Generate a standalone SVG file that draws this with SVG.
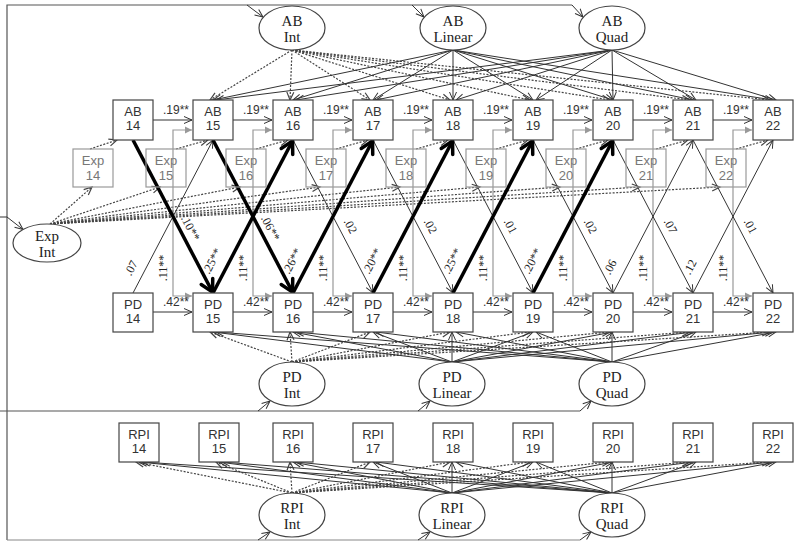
<svg xmlns="http://www.w3.org/2000/svg" width="800" height="547" viewBox="0 0 800 547">
<style>
.box{fill:#fff;stroke:#444;stroke-width:1.2}
.exp{fill:none;stroke:#999;stroke-width:1.2}
.ell{fill:#fff;stroke:#444;stroke-width:1.2}
.t{font-family:"Liberation Sans",Arial,sans-serif;font-size:13px;fill:#333;text-anchor:middle}
.te{font-family:"Liberation Sans",Arial,sans-serif;font-size:13px;fill:#777;text-anchor:middle}
.s{font-family:"Liberation Serif","Times New Roman",serif;font-size:15px;fill:#222;text-anchor:middle}
.l{font-family:"Liberation Sans",Arial,sans-serif;font-size:12px;fill:#333;text-anchor:middle}
.r{font-family:"Liberation Serif","Times New Roman",serif;font-size:12px;fill:#222;text-anchor:middle;dominant-baseline:central}
.c{fill:none;stroke:#333;stroke-width:1;marker-end:url(#m)}
.d{fill:none;stroke:#444;stroke-width:1.2;stroke-dasharray:2 1.5;marker-end:url(#md)}
.k{fill:none;stroke:#000;stroke-width:3.5;marker-end:url(#mk)}
.g{fill:none;stroke:#999;stroke-width:1.2;marker-end:url(#mg)}
.f{fill:none;stroke:#555;stroke-width:1.2}
.fg{fill:none;stroke:#888;stroke-width:1.2}
</style>
<defs>
<marker id="m" markerUnits="userSpaceOnUse" viewBox="-14 -8 16 16" markerWidth="16" markerHeight="16" refX="0" refY="0" orient="auto"><path d="M-8,-3.5 L0,0 L-8,3.5" fill="none" stroke="#333" stroke-width="1"/></marker>
<marker id="md" markerUnits="userSpaceOnUse" viewBox="-14 -8 16 16" markerWidth="16" markerHeight="16" refX="0" refY="0" orient="auto"><path d="M-8,-3.5 L0,0 L-8,3.5" fill="none" stroke="#444" stroke-width="1.2"/></marker>
<marker id="mk" markerUnits="userSpaceOnUse" viewBox="-16 -10 20 20" markerWidth="20" markerHeight="20" refX="1" refY="0" orient="auto"><path d="M-12,-6.5 L0,0 L-12,6.5" fill="none" stroke="#000" stroke-width="3.5" stroke-linejoin="round" stroke-linecap="round"/></marker>
<marker id="mg" markerUnits="userSpaceOnUse" viewBox="-14 -8 16 16" markerWidth="16" markerHeight="16" refX="0" refY="0" orient="auto"><path d="M-7,-3.5 L0,0 L-7,3.5 z" fill="#999"/></marker>
</defs>
<rect width="800" height="547" fill="#fff"/>

<g id="frame">
<path class="f" d="M7,540 V5 H572"/>
<path class="c" d="M572,5 L583,17"/>
<path class="c" d="M247,5 L263,17"/>
<path class="c" d="M412,5 L424,17"/>
<path class="c" d="M0,217 H7 L23,229.5"/>
<path class="f" d="M0,411 H580"/>
<path class="c" d="M580,411 L591,401"/>
<path class="c" d="M258,411 L270,401"/>
<path class="c" d="M418,411 L430,401"/>
<path class="fg" d="M7,540 H580"/>
<path class="c" d="M580,540 L591,532"/>
<path class="c" d="M258,540 L270,532"/>
<path class="c" d="M418,540 L430,532"/>
</g>

<g id="connectors">
<!-- Exp Int fan -->
<path class="d" d="M50,224 L92,187"/>
<path class="d" d="M50,224 L160,187"/>
<path class="d" d="M50,224 L240,187"/>
<path class="d" d="M50,224 L320,187"/>
<path class="d" d="M50,224 L400,187"/>
<path class="d" d="M50,224 L480,187"/>
<path class="d" d="M50,224 L560,187"/>
<path class="d" d="M50,224 L640,187"/>
<path class="d" d="M50,224 L720,187"/>
<!-- AB growth fans -->
<path class="d" d="M292,50 L210,100"/>
<path class="d" d="M292,50 L290,100"/>
<path class="d" d="M292,50 L370,100"/>
<path class="d" d="M292,50 L450,100"/>
<path class="d" d="M292,50 L530,100"/>
<path class="d" d="M292,50 L610,100"/>
<path class="d" d="M292,50 L690,100"/>
<path class="d" d="M292,50 L770,100"/>
<path class="c" d="M453,50 L213,100"/>
<path class="c" d="M453,50 L293,100"/>
<path class="c" d="M453,50 L373,100"/>
<path class="c" d="M453,50 L453,100"/>
<path class="c" d="M453,50 L533,100"/>
<path class="c" d="M453,50 L613,100"/>
<path class="c" d="M453,50 L693,100"/>
<path class="c" d="M453,50 L773,100"/>
<path class="c" d="M612,50 L216,100"/>
<path class="c" d="M612,50 L296,100"/>
<path class="c" d="M612,50 L376,100"/>
<path class="c" d="M612,50 L456,100"/>
<path class="c" d="M612,50 L536,100"/>
<path class="c" d="M612,50 L613,100"/>
<path class="c" d="M612,50 L696,100"/>
<path class="c" d="M612,50 L776,100"/>
<!-- PD growth fans -->
<path class="d" d="M292,362 L210,332"/>
<path class="d" d="M292,362 L290,332"/>
<path class="d" d="M292,362 L370,332"/>
<path class="d" d="M292,362 L450,332"/>
<path class="d" d="M292,362 L530,332"/>
<path class="d" d="M292,362 L610,332"/>
<path class="d" d="M292,362 L690,332"/>
<path class="d" d="M292,362 L770,332"/>
<path class="c" d="M452,362 L213,332"/>
<path class="c" d="M452,362 L293,332"/>
<path class="c" d="M452,362 L373,332"/>
<path class="c" d="M452,362 L452,332"/>
<path class="c" d="M452,362 L533,332"/>
<path class="c" d="M452,362 L613,332"/>
<path class="c" d="M452,362 L693,332"/>
<path class="c" d="M452,362 L773,332"/>
<path class="c" d="M612,362 L216,332"/>
<path class="c" d="M612,362 L296,332"/>
<path class="c" d="M612,362 L376,332"/>
<path class="c" d="M612,362 L456,332"/>
<path class="c" d="M612,362 L536,332"/>
<path class="c" d="M612,362 L612,332"/>
<path class="c" d="M612,362 L696,332"/>
<path class="c" d="M612,362 L776,332"/>
<!-- RPI growth fans -->
<path class="d" d="M292,493 L136,462"/>
<path class="d" d="M292,493 L216,462"/>
<path class="d" d="M292,493 L290,462"/>
<path class="d" d="M292,493 L370,462"/>
<path class="d" d="M292,493 L450,462"/>
<path class="d" d="M292,493 L530,462"/>
<path class="d" d="M292,493 L610,462"/>
<path class="d" d="M292,493 L690,462"/>
<path class="d" d="M292,493 L770,462"/>
<path class="c" d="M452,493 L139,462"/>
<path class="c" d="M452,493 L219,462"/>
<path class="c" d="M452,493 L293,462"/>
<path class="c" d="M452,493 L373,462"/>
<path class="c" d="M452,493 L452,462"/>
<path class="c" d="M452,493 L533,462"/>
<path class="c" d="M452,493 L613,462"/>
<path class="c" d="M452,493 L693,462"/>
<path class="c" d="M452,493 L773,462"/>
<path class="c" d="M612,493 L142,462"/>
<path class="c" d="M612,493 L222,462"/>
<path class="c" d="M612,493 L296,462"/>
<path class="c" d="M612,493 L376,462"/>
<path class="c" d="M612,493 L456,462"/>
<path class="c" d="M612,493 L536,462"/>
<path class="c" d="M612,493 L612,462"/>
<path class="c" d="M612,493 L696,462"/>
<path class="c" d="M612,493 L776,462"/>
<!-- Exp -> AB dotted -->
<path class="d" d="M90,149 L117,140"/>
<path class="d" d="M176,149 L208,140"/>
<path class="d" d="M256,149 L288,140"/>
<path class="d" d="M336,149 L368,140"/>
<path class="d" d="M416,149 L448,140"/>
<path class="d" d="M496,149 L528,140"/>
<path class="d" d="M576,149 L608,140"/>
<path class="d" d="M656,149 L688,140"/>
<path class="d" d="M736,149 L768,140"/>
<!-- gray Exp paths -->
<path class="g" d="M173,212 V130 H192"/><path class="g" d="M173,212 V296 H192"/>
<path class="g" d="M253,212 V130 H272"/><path class="g" d="M253,212 V296 H272"/>
<path class="g" d="M333,212 V130 H352"/><path class="g" d="M333,212 V296 H352"/>
<path class="g" d="M413,212 V130 H432"/><path class="g" d="M413,212 V296 H432"/>
<path class="g" d="M493,212 V130 H512"/><path class="g" d="M493,212 V296 H512"/>
<path class="g" d="M573,212 V130 H592"/><path class="g" d="M573,212 V296 H592"/>
<path class="g" d="M653,212 V130 H672"/><path class="g" d="M653,212 V296 H672"/>
<path class="g" d="M733,212 V130 H752"/><path class="g" d="M733,212 V296 H752"/>
<!-- autoregressive -->
<path class="c" d="M153,120 H192"/><path class="c" d="M233,120 H272"/><path class="c" d="M313,120 H352"/><path class="c" d="M393,120 H432"/>
<path class="c" d="M473,120 H512"/><path class="c" d="M553,120 H592"/><path class="c" d="M633,120 H672"/><path class="c" d="M713,120 H752"/>
<path class="c" d="M153,312 H192"/><path class="c" d="M233,312 H272"/><path class="c" d="M313,312 H352"/><path class="c" d="M393,312 H432"/>
<path class="c" d="M473,312 H512"/><path class="c" d="M553,312 H592"/><path class="c" d="M633,312 H672"/><path class="c" d="M713,312 H752"/>
<!-- cross-lagged thin -->
<path class="c" d="M293,140 L373,293"/>
<path class="c" d="M373,140 L453,293"/>
<path class="c" d="M453,140 L533,293"/>
<path class="c" d="M533,140 L613,293"/>
<path class="c" d="M613,140 L693,293"/>
<path class="c" d="M693,140 L773,293"/>
<path class="c" d="M133,293 L213,140"/>
<path class="c" d="M613,293 L693,140"/>
<path class="c" d="M693,293 L773,140"/>
<!-- cross-lagged thick -->
<path class="k" d="M133,140 L213,293"/>
<path class="k" d="M213,140 L293,293"/>
<path class="k" d="M213,293 L293,140"/>
<path class="k" d="M293,293 L373,140"/>
<path class="k" d="M373,293 L453,140"/>
<path class="k" d="M453,293 L533,140"/>
<path class="k" d="M533,293 L613,140"/>
<!-- labels -->
<text class="l" x="176" y="114">.19**</text><text class="l" x="256" y="114">.19**</text><text class="l" x="336" y="114">.19**</text><text class="l" x="416" y="114">.19**</text>
<text class="l" x="496" y="114">.19**</text><text class="l" x="576" y="114">.19**</text><text class="l" x="656" y="114">.19**</text><text class="l" x="736" y="114">.19**</text>
<text class="l" x="176" y="306">.42**</text><text class="l" x="256" y="306">.42**</text><text class="l" x="336" y="306">.42**</text><text class="l" x="416" y="306">.42**</text>
<text class="l" x="496" y="306">.42**</text><text class="l" x="576" y="306">.42**</text><text class="l" x="656" y="306">.42**</text><text class="l" x="736" y="306">.42**</text>
<text class="r" x="190.5" y="228" transform="rotate(62.4 190.5 228)">.10**</text>
<text class="r" x="270.5" y="228" transform="rotate(62.4 270.5 228)">.06**</text>
<text class="r" x="350.5" y="226" transform="rotate(62.4 350.5 226)">.02</text>
<text class="r" x="430.5" y="226" transform="rotate(62.4 430.5 226)">.02</text>
<text class="r" x="510.5" y="226" transform="rotate(62.4 510.5 226)">.01</text>
<text class="r" x="590.5" y="226" transform="rotate(62.4 590.5 226)">.02</text>
<text class="r" x="670.5" y="226" transform="rotate(62.4 670.5 226)">.07</text>
<text class="r" x="750.5" y="226" transform="rotate(62.4 750.5 226)">.01</text>
<text class="r" x="131" y="268" transform="rotate(-62.4 131 268)">.07</text>
<text class="r" x="212" y="261" transform="rotate(-62.4 212 261)">.25**</text>
<text class="r" x="292" y="261" transform="rotate(-62.4 292 261)">.26**</text>
<text class="r" x="372" y="261" transform="rotate(-62.4 372 261)">.20**</text>
<text class="r" x="452" y="261" transform="rotate(-62.4 452 261)">.25**</text>
<text class="r" x="532" y="261" transform="rotate(-62.4 532 261)">.20**</text>
<text class="r" x="610" y="267" transform="rotate(-62.4 610 267)">.06</text>
<text class="r" x="690" y="267" transform="rotate(-62.4 690 267)">.12</text>
<text class="r" x="163" y="268" transform="rotate(-90 163 268)">.11**</text>
<text class="r" x="243" y="268" transform="rotate(-90 243 268)">.11**</text>
<text class="r" x="323" y="268" transform="rotate(-90 323 268)">.11**</text>
<text class="r" x="403" y="268" transform="rotate(-90 403 268)">.11**</text>
<text class="r" x="483" y="268" transform="rotate(-90 483 268)">.11**</text>
<text class="r" x="563" y="268" transform="rotate(-90 563 268)">.11**</text>
<text class="r" x="643" y="268" transform="rotate(-90 643 268)">.11**</text>
<text class="r" x="723" y="268" transform="rotate(-90 723 268)">.11**</text>
</g>

<g id="ab-int"><ellipse class="ell" cx="292" cy="28" rx="33" ry="22"/><text class="s" x="292" y="26">AB</text><text class="s" x="292" y="42">Int</text></g>
<g id="ab-linear"><ellipse class="ell" cx="453" cy="28" rx="33" ry="22"/><text class="s" x="453" y="26">AB</text><text class="s" x="453" y="42">Linear</text></g>
<g id="ab-quad"><ellipse class="ell" cx="612" cy="28" rx="33" ry="22"/><text class="s" x="612" y="26">AB</text><text class="s" x="612" y="42">Quad</text></g>
<g id="pd-int"><ellipse class="ell" cx="292" cy="384" rx="33" ry="22"/><text class="s" x="292" y="382">PD</text><text class="s" x="292" y="398">Int</text></g>
<g id="pd-linear"><ellipse class="ell" cx="452" cy="384" rx="33" ry="22"/><text class="s" x="452" y="382">PD</text><text class="s" x="452" y="398">Linear</text></g>
<g id="pd-quad"><ellipse class="ell" cx="612" cy="384" rx="33" ry="22"/><text class="s" x="612" y="382">PD</text><text class="s" x="612" y="398">Quad</text></g>
<g id="rpi-int"><ellipse class="ell" cx="292" cy="515" rx="33" ry="22"/><text class="s" x="292" y="513">RPI</text><text class="s" x="292" y="529">Int</text></g>
<g id="rpi-linear"><ellipse class="ell" cx="452" cy="515" rx="33" ry="22"/><text class="s" x="452" y="513">RPI</text><text class="s" x="452" y="529">Linear</text></g>
<g id="rpi-quad"><ellipse class="ell" cx="612" cy="515" rx="33" ry="22"/><text class="s" x="612" y="513">RPI</text><text class="s" x="612" y="529">Quad</text></g>
<g id="exp-int"><ellipse class="ell" cx="47" cy="243" rx="34" ry="19"/><text class="s" x="47" y="241">Exp</text><text class="s" x="47" y="257">Int</text></g>

<g id="ab14"><rect class="box" x="113" y="100" width="40" height="40"/><text class="t" x="133" y="116">AB</text><text class="t" x="133" y="130">14</text></g>
<g id="ab15"><rect class="box" x="193" y="100" width="40" height="40"/><text class="t" x="213" y="116">AB</text><text class="t" x="213" y="130">15</text></g>
<g id="ab16"><rect class="box" x="273" y="100" width="40" height="40"/><text class="t" x="293" y="116">AB</text><text class="t" x="293" y="130">16</text></g>
<g id="ab17"><rect class="box" x="353" y="100" width="40" height="40"/><text class="t" x="373" y="116">AB</text><text class="t" x="373" y="130">17</text></g>
<g id="ab18"><rect class="box" x="433" y="100" width="40" height="40"/><text class="t" x="453" y="116">AB</text><text class="t" x="453" y="130">18</text></g>
<g id="ab19"><rect class="box" x="513" y="100" width="40" height="40"/><text class="t" x="533" y="116">AB</text><text class="t" x="533" y="130">19</text></g>
<g id="ab20"><rect class="box" x="593" y="100" width="40" height="40"/><text class="t" x="613" y="116">AB</text><text class="t" x="613" y="130">20</text></g>
<g id="ab21"><rect class="box" x="673" y="100" width="40" height="40"/><text class="t" x="693" y="116">AB</text><text class="t" x="693" y="130">21</text></g>
<g id="ab22"><rect class="box" x="753" y="100" width="40" height="40"/><text class="t" x="773" y="116">AB</text><text class="t" x="773" y="130">22</text></g>

<g id="exp14"><rect class="exp" x="73" y="149" width="40" height="38"/><text class="te" x="93" y="165">Exp</text><text class="te" x="93" y="180">14</text></g>
<g id="exp15"><rect class="exp" x="146" y="149" width="40" height="38"/><text class="te" x="166" y="165">Exp</text><text class="te" x="166" y="180">15</text></g>
<g id="exp16"><rect class="exp" x="226" y="149" width="40" height="38"/><text class="te" x="246" y="165">Exp</text><text class="te" x="246" y="180">16</text></g>
<g id="exp17"><rect class="exp" x="306" y="149" width="40" height="38"/><text class="te" x="326" y="165">Exp</text><text class="te" x="326" y="180">17</text></g>
<g id="exp18"><rect class="exp" x="386" y="149" width="40" height="38"/><text class="te" x="406" y="165">Exp</text><text class="te" x="406" y="180">18</text></g>
<g id="exp19"><rect class="exp" x="466" y="149" width="40" height="38"/><text class="te" x="486" y="165">Exp</text><text class="te" x="486" y="180">19</text></g>
<g id="exp20"><rect class="exp" x="546" y="149" width="40" height="38"/><text class="te" x="566" y="165">Exp</text><text class="te" x="566" y="180">20</text></g>
<g id="exp21"><rect class="exp" x="626" y="149" width="40" height="38"/><text class="te" x="646" y="165">Exp</text><text class="te" x="646" y="180">21</text></g>
<g id="exp22"><rect class="exp" x="706" y="149" width="40" height="38"/><text class="te" x="726" y="165">Exp</text><text class="te" x="726" y="180">22</text></g>

<g id="pd14"><rect class="box" x="113" y="293" width="40" height="39"/><text class="t" x="133" y="309">PD</text><text class="t" x="133" y="323">14</text></g>
<g id="pd15"><rect class="box" x="193" y="293" width="40" height="39"/><text class="t" x="213" y="309">PD</text><text class="t" x="213" y="323">15</text></g>
<g id="pd16"><rect class="box" x="273" y="293" width="40" height="39"/><text class="t" x="293" y="309">PD</text><text class="t" x="293" y="323">16</text></g>
<g id="pd17"><rect class="box" x="353" y="293" width="40" height="39"/><text class="t" x="373" y="309">PD</text><text class="t" x="373" y="323">17</text></g>
<g id="pd18"><rect class="box" x="433" y="293" width="40" height="39"/><text class="t" x="453" y="309">PD</text><text class="t" x="453" y="323">18</text></g>
<g id="pd19"><rect class="box" x="513" y="293" width="40" height="39"/><text class="t" x="533" y="309">PD</text><text class="t" x="533" y="323">19</text></g>
<g id="pd20"><rect class="box" x="593" y="293" width="40" height="39"/><text class="t" x="613" y="309">PD</text><text class="t" x="613" y="323">20</text></g>
<g id="pd21"><rect class="box" x="673" y="293" width="40" height="39"/><text class="t" x="693" y="309">PD</text><text class="t" x="693" y="323">21</text></g>
<g id="pd22"><rect class="box" x="753" y="293" width="40" height="39"/><text class="t" x="773" y="309">PD</text><text class="t" x="773" y="323">22</text></g>

<g id="rpi14"><rect class="box" x="119" y="423" width="40" height="39"/><text class="t" x="139" y="439">RPI</text><text class="t" x="139" y="453">14</text></g>
<g id="rpi15"><rect class="box" x="199" y="423" width="40" height="39"/><text class="t" x="219" y="439">RPI</text><text class="t" x="219" y="453">15</text></g>
<g id="rpi16"><rect class="box" x="273" y="423" width="40" height="39"/><text class="t" x="293" y="439">RPI</text><text class="t" x="293" y="453">16</text></g>
<g id="rpi17"><rect class="box" x="353" y="423" width="40" height="39"/><text class="t" x="373" y="439">RPI</text><text class="t" x="373" y="453">17</text></g>
<g id="rpi18"><rect class="box" x="433" y="423" width="40" height="39"/><text class="t" x="453" y="439">RPI</text><text class="t" x="453" y="453">18</text></g>
<g id="rpi19"><rect class="box" x="513" y="423" width="40" height="39"/><text class="t" x="533" y="439">RPI</text><text class="t" x="533" y="453">19</text></g>
<g id="rpi20"><rect class="box" x="593" y="423" width="40" height="39"/><text class="t" x="613" y="439">RPI</text><text class="t" x="613" y="453">20</text></g>
<g id="rpi21"><rect class="box" x="673" y="423" width="40" height="39"/><text class="t" x="693" y="439">RPI</text><text class="t" x="693" y="453">21</text></g>
<g id="rpi22"><rect class="box" x="753" y="423" width="40" height="39"/><text class="t" x="773" y="439">RPI</text><text class="t" x="773" y="453">22</text></g>
</svg>
